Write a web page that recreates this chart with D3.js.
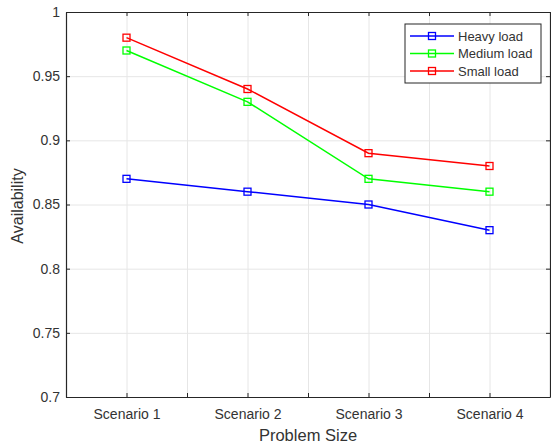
<!DOCTYPE html>
<html>
<head>
<meta charset="utf-8">
<script src="https://cdn.jsdelivr.net/npm/d3@7"></script>
<style>
  body { margin: 0; background: #fff; }
  svg text { font-family: "Liberation Sans", Arial, sans-serif; fill: #333; }
</style>
</head>
<body>
<div id="graph"></div>
<script>
// Data
const scenarios = ["Scenario 1", "Scenario 2", "Scenario 3", "Scenario 4"];
const heavyLoad = [0.87, 0.86, 0.85, 0.83];
const mediumLoad = [0.97, 0.93, 0.87, 0.86];
const smallLoad = [0.98, 0.94, 0.89, 0.88];
const seriesNames = ["Heavy load", "Medium load", "Small load"];
const yTicks = [0.7, 0.75, 0.8, 0.85, 0.9, 0.95, 1];

const series = [
    { name: seriesNames[0], values: heavyLoad, color: "#0000ff" },
    { name: seriesNames[1], values: mediumLoad, color: "#00ff00" },
    { name: seriesNames[2], values: smallLoad, color: "#ff0000" }
];

const W = 551, H = 446;
const margin = { top: 12, right: 1, bottom: 49, left: 66 };
const width = W - margin.left - margin.right;
const height = H - margin.top - margin.bottom;

const svg = d3.select("#graph")
    .append("svg")
    .attr("width", W)
    .attr("height", H)
    .append("g")
    .attr("transform", `translate(${margin.left}, ${margin.top})`);

// Scales: categories sit at 1..4, axis runs from 0.5 to 4.5
const xScale = d3.scaleLinear().domain([0.5, 4.5]).range([0, width]);
const yScale = d3.scaleLinear().domain([0.7, 1]).range([height, 0]);
const xGridVals = d3.range(0.5, 4.51, 0.5);

// Grid lines
svg.append("g")
    .attr("class", "grid")
    .call(d3.axisBottom(xScale).tickValues(xGridVals).tickSize(height).tickFormat(""))
    .call(g => g.select(".domain").remove())
    .selectAll("line").attr("stroke", "#e6e6e6").attr("stroke-width", 1);
svg.append("g")
    .attr("class", "grid")
    .call(d3.axisLeft(yScale).tickValues(yTicks).tickSize(-width).tickFormat(""))
    .call(g => g.select(".domain").remove())
    .selectAll("line").attr("stroke", "#e6e6e6").attr("stroke-width", 1);

// Axes (ticks point inward, box on all sides)
const xAxis = d3.axisBottom(xScale).tickValues(xGridVals)
    .tickSizeInner(-4).tickSizeOuter(0).tickPadding(12)
    .tickFormat(d => Number.isInteger(d) ? scenarios[d - 1] : "");
const yAxis = d3.axisLeft(yScale).tickValues(yTicks)
    .tickSizeInner(-4).tickSizeOuter(0).tickPadding(6)
    .tickFormat(d3.format("~g"));

const gx = svg.append("g")
    .attr("transform", `translate(0, ${height})`)
    .call(xAxis);
const gy = svg.append("g").call(yAxis);
svg.append("g")
    .call(d3.axisTop(xScale).tickValues(xGridVals).tickSizeInner(-4).tickSizeOuter(0).tickFormat(""));
svg.append("g")
    .attr("transform", `translate(${width}, 0)`)
    .call(d3.axisRight(yScale).tickValues(yTicks).tickSizeInner(-4).tickSizeOuter(0).tickFormat(""));

svg.selectAll(".domain").attr("stroke", "#262626").attr("stroke-width", 1.2);
svg.selectAll(".tick line").filter(function () {
    return this.parentNode.parentNode.getAttribute("class") !== "grid";
}).attr("stroke", "#262626");
gx.selectAll("text").style("font-size", "14px").attr("fill", "#333");
gy.selectAll("text").style("font-size", "14px").attr("fill", "#333");

// Lines and markers
const line = d3.line()
    .x((d, i) => xScale(i + 1))
    .y(d => yScale(d));

series.forEach(s => {
    svg.append("path")
        .datum(s.values)
        .attr("fill", "none")
        .attr("stroke", s.color)
        .attr("stroke-width", 1.5)
        .attr("d", line);
    svg.selectAll(null)
        .data(s.values)
        .enter()
        .append("rect")
        .attr("x", (d, i) => xScale(i + 1) - 3.5)
        .attr("y", d => yScale(d) - 3.5)
        .attr("width", 7)
        .attr("height", 7)
        .attr("fill", "none")
        .attr("stroke", s.color)
        .attr("stroke-width", 1.3);
});

// Axis labels
svg.append("text")
    .attr("x", width / 2)
    .attr("y", height + 44)
    .style("text-anchor", "middle")
    .style("font-size", "16.5px")
    .text("Problem Size");
svg.append("text")
    .attr("transform", "rotate(-90)")
    .attr("x", -194)
    .attr("y", -43)
    .style("text-anchor", "middle")
    .style("font-size", "16px")
    .text("Availability");

// Legend
const lx = 405 - margin.left, ly = 24 - margin.top;
const legend = svg.append("g").attr("transform", `translate(${lx}, ${ly})`);
legend.append("rect")
    .attr("width", 136)
    .attr("height", 59)
    .attr("fill", "#fff")
    .attr("stroke", "#262626")
    .attr("stroke-width", 1);
series.forEach((s, i) => {
    const y = 12 + i * 17.5;
    legend.append("line")
        .attr("x1", 5).attr("x2", 49)
        .attr("y1", y).attr("y2", y)
        .attr("stroke", s.color)
        .attr("stroke-width", 1.5);
    legend.append("rect")
        .attr("x", 27 - 3.5).attr("y", y - 3.5)
        .attr("width", 7).attr("height", 7)
        .attr("fill", "none")
        .attr("stroke", s.color)
        .attr("stroke-width", 1.3);
    legend.append("text")
        .attr("x", 53)
        .attr("y", y)
        .attr("dy", "0.35em")
        .style("font-size", "13px")
        .text(s.name);
});
</script>
</body>
</html>
